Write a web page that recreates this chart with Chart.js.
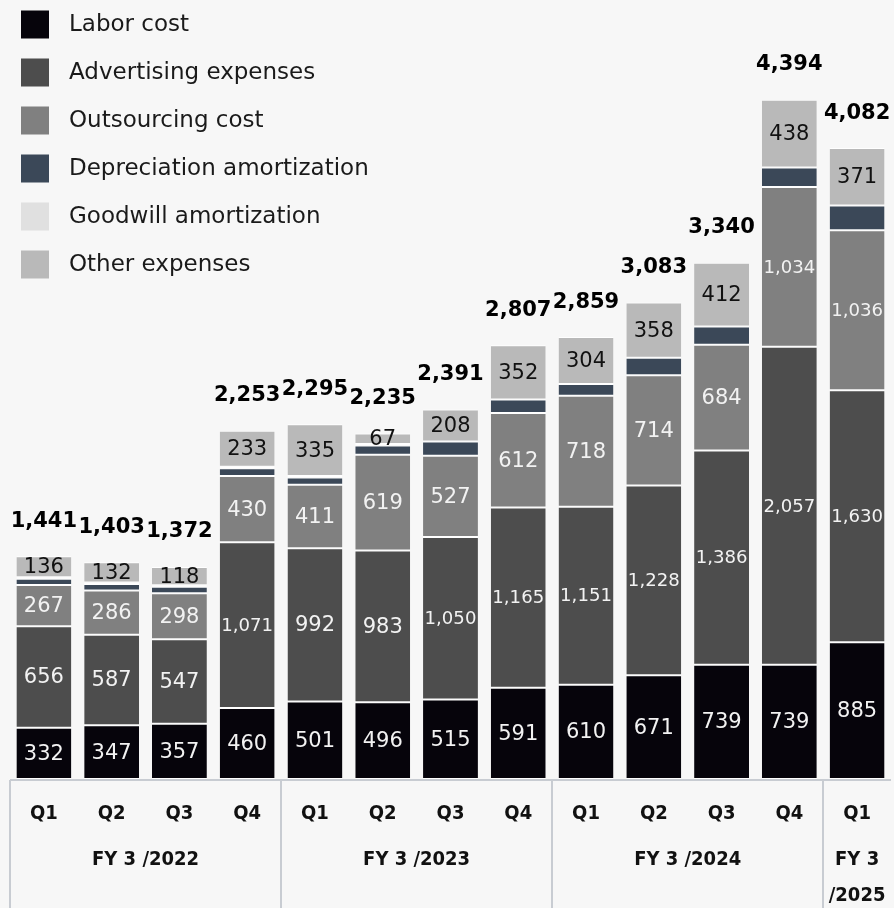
<!DOCTYPE html>
<html>
<head>
<meta charset="utf-8">
<script src="https://cdn.jsdelivr.net/npm/chart.js@4.4.1/dist/chart.umd.min.js"></script>
<style>
  html, body { margin: 0; padding: 0; background: #f7f7f7; }
  canvas { display: block; }
</style>
</head>
<body>
<canvas id="chart" width="894" height="908" style="width:894px;height:908px"></canvas>
<script>
// Quarter labels and fiscal-year groups
const quarters = ['Q1','Q2','Q3','Q4','Q1','Q2','Q3','Q4','Q1','Q2','Q3','Q4','Q1'];
const fiscalYears = [
  { label: ['FY 3 /2022'], from: 0, to: 3 },
  { label: ['FY 3 /2023'], from: 4, to: 7 },
  { label: ['FY 3 /2024'], from: 8, to: 11 },
  { label: ['FY 3', '/2025'], from: 12, to: 12 }
];

// SG&A breakdown by quarter (million yen)
const laborCost       = [332, 347, 357, 460, 501, 496, 515, 591, 610, 671, 739, 739, 885];
const advertising     = [656, 587, 547, 1071, 992, 983, 1050, 1165, 1151, 1228, 1386, 2057, 1630];
const outsourcing     = [267, 286, 298, 430, 411, 619, 527, 612, 718, 714, 684, 1034, 1036];
const depreciation    = [40, 41, 42, 49, 46, 60, 91, 87, 76, 112, 119, 126, 160];
const goodwill        = [10, 10, 10, 10, 10, 10, 0, 0, 0, 0, 0, 0, 0];
const otherExpenses   = [136, 132, 118, 233, 335, 67, 208, 352, 304, 358, 412, 438, 371];

const seriesNames  = ['Labor cost', 'Advertising expenses', 'Outsourcing cost',
                      'Depreciation amortization', 'Goodwill amortization', 'Other expenses'];
const seriesColors = ['#06040b', '#4d4d4d', '#808080', '#3b4858', '#e0e0e0', '#b9b9b9'];
const seriesData   = [laborCost, advertising, outsourcing, depreciation, goodwill, otherExpenses];
// which series carry an in-bar value label, and its text colour
const labelColors  = ['#f2f2f2', '#f2f2f2', '#f2f2f2', null, null, '#111111'];

const FONT = '"DejaVu Sans", Verdana, sans-serif';
const FONT_COND = '"DejaVu Sans Condensed", "DejaVu Sans", sans-serif';
const fmt = v => v.toLocaleString('en-US');

const background = {
  id: 'background',
  beforeDraw(chart) {
    const ctx = chart.ctx;
    ctx.save();
    ctx.fillStyle = '#f7f7f7';
    ctx.fillRect(0, 0, chart.width, chart.height);
    ctx.restore();
  }
};

const legendBlock = {
  id: 'legendBlock',
  afterDraw(chart) {
    const ctx = chart.ctx;
    ctx.save();
    chart.data.datasets.forEach((ds, k) => {
      const cy = 24.5 + k * 48;
      ctx.fillStyle = ds.backgroundColor;
      ctx.fillRect(21, cy - 14, 28, 28);
      ctx.fillStyle = '#1a1a1a';
      ctx.font = '23px ' + FONT;
      ctx.textAlign = 'left';
      ctx.textBaseline = 'middle';
      ctx.fillText(ds.label, 69, cy + 1);
    });
    ctx.restore();
  }
};

const valueLabels = {
  id: 'valueLabels',
  afterDatasetsDraw(chart) {
    const ctx = chart.ctx;
    const yScale = chart.scales.y;
    ctx.save();
    ctx.textAlign = 'center';
    ctx.textBaseline = 'middle';
    chart.data.datasets.forEach((ds, k) => {
      const color = labelColors[k];
      if (!color) return;
      const meta = chart.getDatasetMeta(k);
      meta.data.forEach((bar, i) => {
        const text = fmt(ds.data[i]);
        let size = 21;
        ctx.font = size + 'px ' + FONT;
        const maxW = bar.width - 3;
        const w = ctx.measureText(text).width;
        if (w > maxW) { size = size * maxW / w; ctx.font = size.toFixed(2) + 'px ' + FONT; }
        ctx.fillStyle = color;
        ctx.fillText(text, bar.x, (bar.y + bar.base) / 2 + 1);
      });
    });
    // stack totals above each bar
    const n = chart.data.labels.length;
    ctx.font = 'bold 21px ' + FONT;
    ctx.fillStyle = '#000000';
    const xMeta = chart.getDatasetMeta(0);
    for (let i = 0; i < n; i++) {
      const total = chart.data.datasets.reduce((s, ds) => s + ds.data[i], 0);
      const top = yScale.getPixelForValue(total);
      ctx.fillText(fmt(total), xMeta.data[i].x, top - 35);
    }
    ctx.restore();
  }
};

const categoryFrame = {
  id: 'categoryFrame',
  afterDraw(chart) {
    const ctx = chart.ctx;
    const x = chart.scales.x;
    const top = x.top + 1;
    const half = (x.getPixelForValue(1) - x.getPixelForValue(0)) / 2;
    ctx.save();
    ctx.strokeStyle = '#c8ccd2';
    ctx.lineWidth = 2;
    ctx.beginPath();
    ctx.moveTo(x.left, top);
    ctx.lineTo(x.right, top);
    fiscalYears.forEach(g => {
      const gx = Math.round(x.getPixelForValue(g.from) - half);
      ctx.moveTo(gx, top);
      ctx.lineTo(gx, chart.height);
    });
    ctx.stroke();
    ctx.fillStyle = '#111111';
    ctx.font = 'bold 20px ' + FONT_COND;
    ctx.textAlign = 'center';
    ctx.textBaseline = 'middle';
    fiscalYears.forEach(g => {
      const cx = (x.getPixelForValue(g.from) + x.getPixelForValue(g.to)) / 2;
      g.label.forEach((line, j) => ctx.fillText(line, cx, 860 + j * 36));
    });
    ctx.restore();
  }
};

new Chart(document.getElementById('chart'), {
  type: 'bar',
  data: {
    labels: quarters,
    datasets: seriesNames.map((name, k) => ({
      label: name,
      data: seriesData[k],
      backgroundColor: seriesColors[k],
      borderColor: '#ffffff',
      borderWidth: { top: 1, bottom: 1, left: 0, right: 0 },
      borderSkipped: false,
      categoryPercentage: 1,
      barPercentage: 0.81
    }))
  },
  options: {
    responsive: false,
    devicePixelRatio: 1,
    animation: false,
    layout: { padding: { left: 10, right: 0, top: 0, bottom: 0 } },
    plugins: { legend: { display: false }, tooltip: { enabled: false } },
    scales: {
      x: {
        stacked: true,
        grid: { display: false, drawTicks: false },
        border: { display: false },
        ticks: {
          color: '#111111',
          font: { family: FONT_COND, size: 20, weight: 'bold' },
          padding: 23,
          maxRotation: 0,
          autoSkip: false
        },
        afterFit(scale) { scale.height = 129; }
      },
      y: {
        stacked: true,
        display: false,
        min: 0,
        max: 5040
      }
    }
  },
  plugins: [background, legendBlock, valueLabels, categoryFrame]
});
</script>
</body>
</html>
